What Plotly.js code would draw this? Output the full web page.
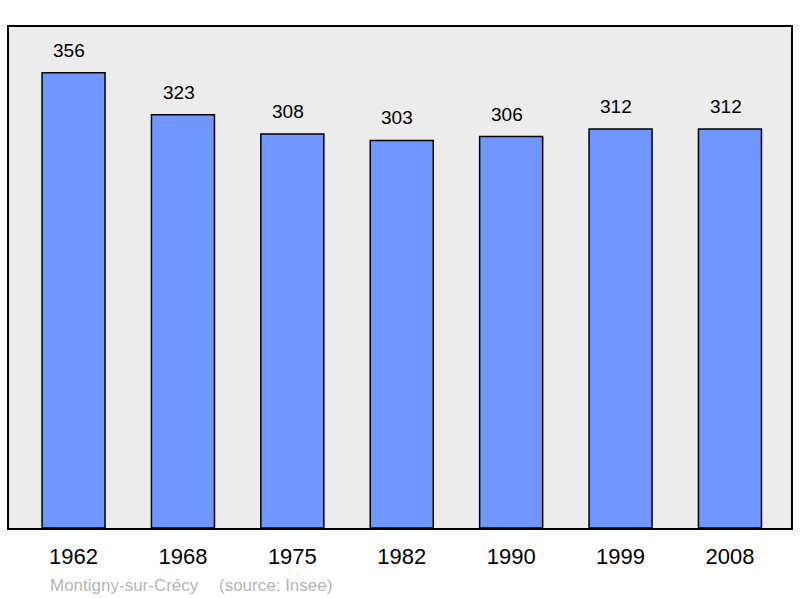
<!DOCTYPE html>
<html><head><meta charset="utf-8">
<script src="https://cdn.plot.ly/plotly-3.0.1.min.js"></script>
<style>body{margin:0;background:#fff}#c{width:800px;height:598px}</style>
</head><body><div id="c"></div>
<script>
const years = ["1962","1968","1975","1982","1990","1999","2008"];
const population = [356,323,308,303,306,312,312];
const footerPlace = "Montigny-sur-Crécy";
const footerSource = "(source: Insee)";

const idx = years.map((_, i) => i);
const trace = {
  type: "bar", x: idx, y: population, width: 0.576,
  marker: {color: "#7096ff", line: {color: "#000", width: 1.5}},
  hoverinfo: "none"
};
const ann = population.map((v, i) => ({
  x: i - 0.04, y: v, xref: "x", yref: "y", text: String(v), showarrow: false,
  yanchor: "bottom", yshift: 10, font: {family: "Liberation Sans, Arial, sans-serif", size: 19, color: "#000"}
}));
const ff = {family: "Liberation Sans, Arial, sans-serif", size: 17, color: "#b4b4b4"};
ann.push({x: (48-9)/782, y: 0, xref: "paper", yref: "paper", xanchor: "left", yanchor: "top",
  yshift: -46, text: footerPlace, showarrow: false, font: ff});
ann.push({x: (217-9)/782, y: 0, xref: "paper", yref: "paper", xanchor: "left", yanchor: "top",
  yshift: -46, text: footerSource, showarrow: false, font: ff});
const layout = {
  width: 800, height: 598,
  margin: {l: 9, r: 9, t: 27, b: 70},
  paper_bgcolor: "#fff", plot_bgcolor: "#ececec",
  showlegend: false,
  font: {family: "Liberation Sans, Arial, sans-serif", color: "#000"},
  xaxis: {range: [-0.59, 6.558], tickvals: idx, ticktext: years, showgrid: false, zeroline: false,
    showline: true, mirror: true, linecolor: "#000", linewidth: 2, ticks: "", ticklabelstandoff: 8,
    tickfont: {size: 22, color: "#000"}},
  yaxis: {range: [0, 391.7], showgrid: false, zeroline: false, showticklabels: false,
    showline: true, mirror: true, linecolor: "#000", linewidth: 2, ticks: ""},
  annotations: ann
};
Plotly.newPlot("c", [trace], layout, {staticPlot: true});
</script></body></html>
